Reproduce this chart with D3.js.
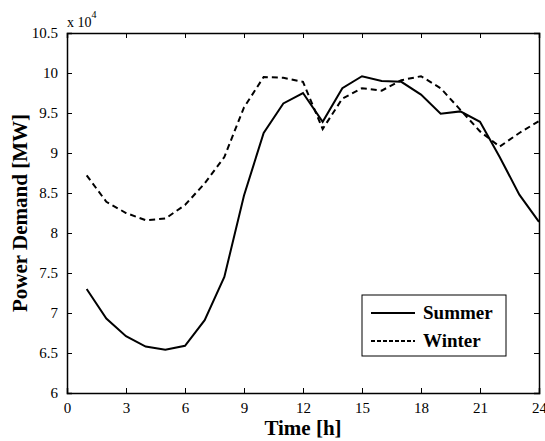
<!DOCTYPE html>
<html>
<head>
<meta charset="utf-8">
<script src="https://cdn.jsdelivr.net/npm/d3@7"></script>
<style>
  body { margin: 0; background: #fff; }
  text { font-family: "Liberation Serif", "Times New Roman", serif; }
</style>
</head>
<body>
<div id="container"></div>
<script>
// hours and demand (x 10^4 MW)
const hours = d3.range(1, 25);
const summer = [7.30, 6.93, 6.71, 6.58, 6.54, 6.59, 6.91, 7.45, 8.47, 9.25, 9.62, 9.75,
                9.39, 9.81, 9.96, 9.90, 9.89, 9.73, 9.49, 9.52, 9.39, 8.95, 8.48, 8.14];
const winter = [8.72, 8.39, 8.25, 8.16, 8.18, 8.35, 8.62, 8.95, 9.57, 9.95, 9.94, 9.89,
                9.30, 9.68, 9.81, 9.78, 9.91, 9.96, 9.81, 9.54, 9.27, 9.08, 9.25, 9.40];
const xTicks = [0, 3, 6, 9, 12, 15, 18, 21, 24];
const yTicks = [6, 6.5, 7, 7.5, 8, 8.5, 9, 9.5, 10, 10.5];

const width = 545, height = 441;
const margin = {left: 67, right: 6, top: 33, bottom: 48};
const serif = "Liberation Serif, Times New Roman, serif";

const svg = d3.select("#container").append("svg")
  .attr("width", width)
  .attr("height", height);

const xScale = d3.scaleLinear().domain([0, 24]).range([margin.left, width - margin.right]);
const yScale = d3.scaleLinear().domain([6, 10.5]).range([height - margin.bottom, margin.top]);

const fmt = d => String(d);

// axes, ticks pointing inward, box closed with mirrored ticks
svg.append("g")
  .attr("transform", `translate(0,${yScale(6)})`)
  .attr("font-family", serif)
  .call(d3.axisBottom(xScale).tickValues(xTicks).tickSize(-5).tickPadding(9).tickFormat(fmt))
  .call(g => g.attr("font-family", serif))
  .call(g => g.selectAll("text").attr("font-size", 15).attr("fill", "#000"));

svg.append("g")
  .attr("transform", `translate(0,${yScale(10.5)})`)
  .call(d3.axisTop(xScale).tickValues(xTicks).tickSize(-5).tickFormat(""));

svg.append("g")
  .attr("transform", `translate(${xScale(0)},0)`)
  .call(d3.axisLeft(yScale).tickValues(yTicks).tickSize(-5).tickPadding(9).tickFormat(fmt))
  .call(g => g.attr("font-family", serif))
  .call(g => g.selectAll("text").attr("font-size", 15).attr("fill", "#000"));

svg.append("g")
  .attr("transform", `translate(${xScale(24)},0)`)
  .call(d3.axisRight(yScale).tickValues(yTicks).tickSize(-5).tickFormat(""));

svg.selectAll(".domain").attr("stroke", "#000").attr("stroke-width", 1.5);
svg.selectAll(".tick line").attr("stroke", "#000");

// lines
const line = d3.line()
  .x((d, i) => xScale(hours[i]))
  .y(d => yScale(d));

svg.append("path")
  .datum(summer)
  .attr("fill", "none")
  .attr("stroke", "#000")
  .attr("stroke-width", 2)
  .attr("d", line);

svg.append("path")
  .datum(winter)
  .attr("fill", "none")
  .attr("stroke", "#000")
  .attr("stroke-width", 2)
  .attr("stroke-dasharray", "6,4")
  .attr("d", line);

// exponent label
const ex = svg.append("text")
  .attr("x", xScale(0))
  .attr("y", 27)
  .attr("font-size", 14);
ex.append("tspan").text("x 10");
ex.append("tspan").attr("dy", -9).attr("font-size", 10).text("4");

// axis titles
svg.append("text")
  .attr("x", (xScale(0) + xScale(24)) / 2)
  .attr("y", 435)
  .attr("text-anchor", "middle")
  .attr("font-size", 21)
  .attr("font-weight", "bold")
  .text("Time [h]");

svg.append("text")
  .attr("transform", `translate(27,${(yScale(6) + yScale(10.5)) / 2}) rotate(-90)`)
  .attr("text-anchor", "middle")
  .attr("font-size", 21)
  .attr("font-weight", "bold")
  .text("Power Demand [MW]");

// legend
const legend = svg.append("g").attr("transform", "translate(362,295)");
legend.append("rect")
  .attr("width", 144).attr("height", 61)
  .attr("fill", "#fff").attr("stroke", "#000").attr("stroke-width", 1);

const items = [{name: "Summer", dash: null}, {name: "Winter", dash: "4,2"}];
items.forEach((it, i) => {
  const y = 18 + i * 28;
  legend.append("line")
    .attr("x1", 9).attr("x2", 53).attr("y1", y).attr("y2", y)
    .attr("stroke", "#000").attr("stroke-width", 2)
    .attr("stroke-dasharray", it.dash);
  legend.append("text")
    .attr("x", 61).attr("y", y + 6)
    .attr("font-size", 19).attr("font-weight", "bold")
    .text(it.name);
});
</script>
</body>
</html>
